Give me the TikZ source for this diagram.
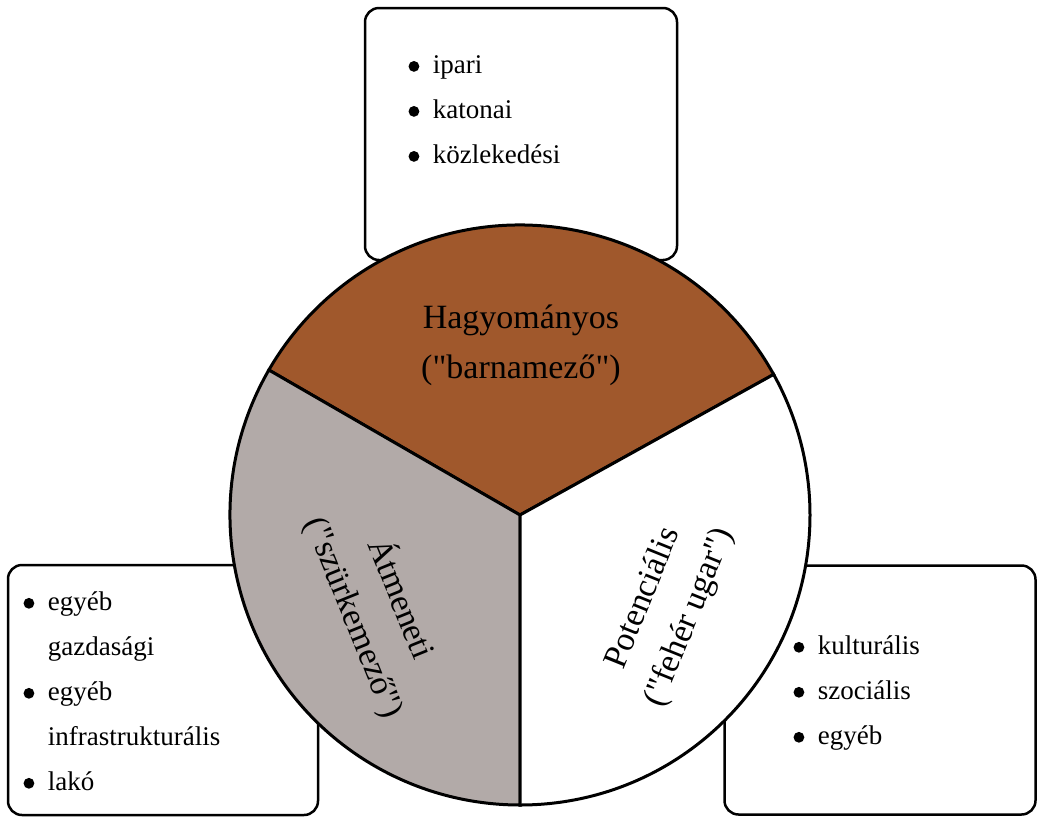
\documentclass[tikz,border=0pt]{standalone}
\usepackage{fontspec}
\setmainfont{Liberation Serif}[Ligatures=NoCommon]
\usetikzlibrary{positioning}
\definecolor{barna}{RGB}{160,88,44}
\definecolor{szurke}{RGB}{178,170,168}
\newcommand{\blt}{\tikz[baseline=0pt]\fill (0,0.26em) circle (0.2em);}
\newcommand{\qt}{\textquotedbl}
\tikzset{listbox/.style={draw, line width=2.5pt, rounded corners=14pt, fill=white},
 listtext/.style={font=\fontsize{27}{45}\selectfont, align=left},
 sector/.style={draw, line width=3pt},
 sectortext/.style={font=\fontsize{34}{50}\selectfont, align=center}}

\begin{document}
\begin{tikzpicture}[x=1pt,y=-1pt]
 \useasboundingbox (0,0) rectangle (1039,839);
 % boxes behind the circle
 \node (topbox) [listbox, minimum width=312pt, minimum height=252pt] at (521,134) {};
 \node (leftbox) [listbox, minimum width=310pt, minimum height=250pt] at (163,690) {};
 \node (rightbox) [listbox, minimum width=311pt, minimum height=249pt] at (880,690) {};
 \node (toplist) [listtext, anchor=north west] at (405,52) {\blt\ \ ipari\\ \blt\ \ katonai\\ \blt\ \ közlekedési};
 \node (leftlist) [listtext, anchor=north west] at (20,588) {\blt\ \ egyéb\\ \phantom{\blt}\ \ gazdasági\\ \blt\ \ egyéb\\ \phantom{\blt}\ \ infrastrukturális\\ \blt\ \ lakó};
 \node (rightlist) [listtext, anchor=north west] at (790,632) {\blt\ \ kulturális\\ \blt\ \ szociális\\ \blt\ \ egyéb};

 % circle and sectors
 \coordinate (center) at (520,515);
 \draw[sector, fill=barna] (center) -- ++(29:290 and -290) arc[start angle=29, end angle=150, x radius=290, y radius=-290] -- cycle;
 \draw[sector, fill=szurke] (center) -- ++(150:290 and -290) arc[start angle=150, end angle=270, x radius=290, y radius=-290] -- cycle;
 \draw[sector, fill=white] (center) -- ++(270:290 and -290) arc[start angle=270, end angle=389, x radius=290, y radius=-290] -- cycle;

 \node (hagyomanyos) [sectortext] at (521,345) {Hagyományos\\ (\qt barnamező\qt)};
 \node (atmeneti) [sectortext, rotate=-68] at (378,608) {Átmeneti\\ (\qt szürkemező\qt)};
 \node (potencialis) [sectortext, rotate=68] at (667,608) {Potenciális\\ (\qt fehér ugar\qt)};
\end{tikzpicture}
\end{document}
